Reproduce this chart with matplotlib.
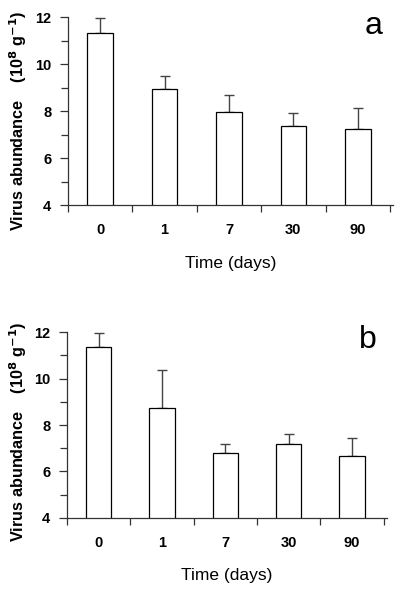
import numpy as np
import matplotlib
matplotlib.use("Agg")
import matplotlib.pyplot as plt
from matplotlib.ticker import MultipleLocator, FixedLocator

plt.rcParams['font.family'] = ['Liberation Sans', 'DejaVu Sans']

days = ['0', '1', '7', '30', '90']

# panel a
mean_a = [11.32, 8.96, 7.97, 7.37, 7.22]
err_a = [0.64, 0.54, 0.72, 0.56, 0.92]

# panel b
mean_b = [11.37, 8.72, 6.81, 7.20, 6.66]
err_b = [0.60, 1.65, 0.35, 0.41, 0.76]

fig = plt.figure(figsize=(4, 5.9), dpi=100)

def panel(rect, means, errs, letter, ylab_pos, xlab_y, letter_y):
    ax = fig.add_axes(rect)
    x = np.arange(len(days))
    ax.bar(x, means, width=0.4, bottom=0, color='white', edgecolor='black',
           linewidth=0.9, zorder=2)
    ax.errorbar(x, means, yerr=[np.zeros(len(errs)), errs], fmt='none',
                ecolor='#444444', elinewidth=1.0, capsize=3.6, capthick=1.0, zorder=1)
    ax.set_ylim(4, 12)
    ax.set_xlim(-0.5, 4.55)
    ax.yaxis.set_major_locator(MultipleLocator(2))
    ax.yaxis.set_minor_locator(MultipleLocator(1))
    ax.set_xticks(x)
    ax.set_xticklabels(days, fontweight='bold', fontsize=10.5)
    ax.xaxis.set_minor_locator(FixedLocator(np.arange(-0.5, 4.6, 1.0)))
    ax.tick_params(axis='x', which='major', length=0, pad=13)
    ax.tick_params(axis='x', which='minor', length=5, width=0.9, color='#333333')
    ax.tick_params(axis='y', which='major', length=6, width=0.9, color='#333333',
                   labelsize=10.5, pad=6)
    ax.tick_params(axis='y', which='minor', length=5, width=0.9, color='#333333')
    for lbl in ax.get_yticklabels():
        lbl.set_fontweight('bold')
    for s in ['top', 'right']:
        ax.spines[s].set_visible(False)
    for s in ['left', 'bottom']:
        ax.spines[s].set_linewidth(0.9)
        ax.spines[s].set_color('#333333')
    ax.set_xlabel('Time (days)', fontsize=12.5, va='center')
    ax.xaxis.set_label_coords(0.5, xlab_y)
    ax.set_ylabel(r'Virus abundance    (10$^{\mathbf{8}}$ g$^{\mathbf{-1}}$)',
                  fontsize=11.7, fontweight='bold', va='center')
    ax.yaxis.set_label_coords(*ylab_pos)
    ax.text(0.94, letter_y, letter, transform=ax.transAxes, fontsize=23,
            ha='center', va='center')
    return ax

panel([0.17, 0.6525, 0.813, 0.3185], mean_a, err_a, 'a',
      (-0.154, 0.45), -0.31, 0.955)
panel([0.167, 0.1225, 0.8005, 0.3143], mean_b, err_b, 'b',
      (-0.152, 0.465), -0.31, 0.96)

fig.savefig('out.png', dpi=100)
